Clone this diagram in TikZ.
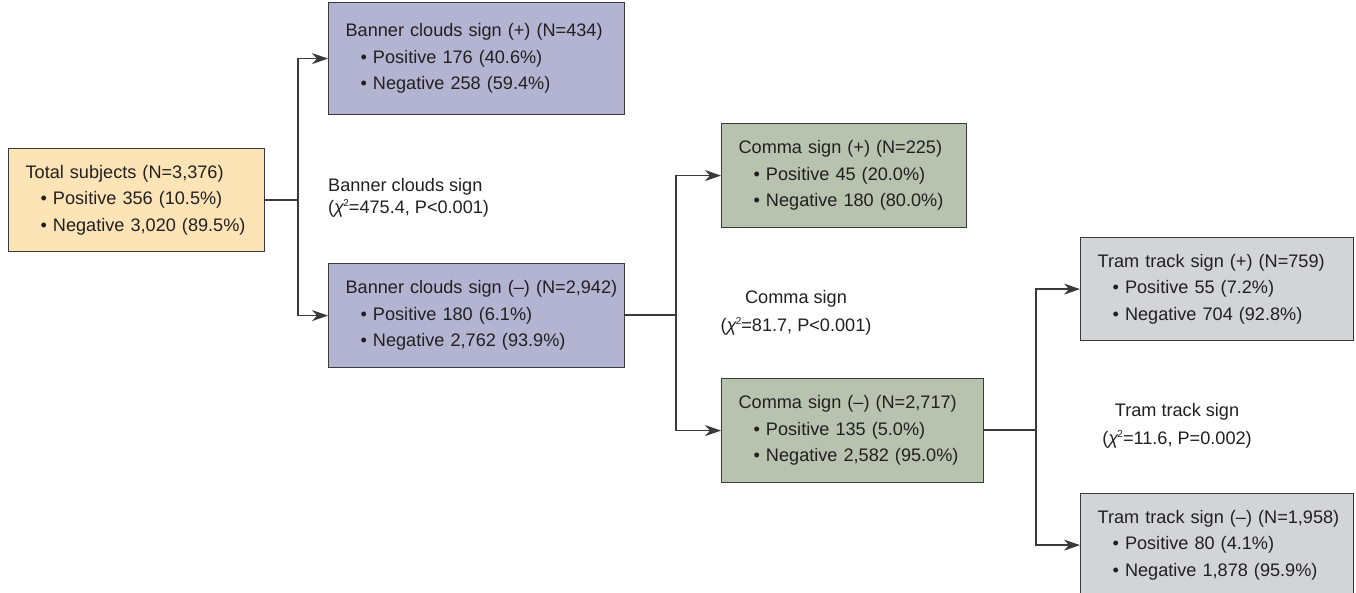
\documentclass[tikz,border=0pt]{standalone}
\usepackage{fontspec}
\setmainfont{Liberation Sans}
\usetikzlibrary{arrows.meta}
\definecolor{bordc}{HTML}{3A3A3A}
\definecolor{txtc}{HTML}{231F20}
\definecolor{totfill}{HTML}{FCE4B6}
\definecolor{banfill}{HTML}{B3B4D1}
\definecolor{comfill}{HTML}{B7C2AF}
\definecolor{tramfill}{HTML}{D3D4D6}
\newcommand\bl[1]{\mbox{\hspace*{15bp}\textbullet~#1}}
\newcommand\hd[1]{\mbox{#1}}
\newcommand\chisq{(\textit{χ}\kern-1bp\raisebox{0.75ex}{\fontsize{10}{10}\selectfont 2}}
\begin{document}
\begin{tikzpicture}[x=1bp,y=-1bp,
  box/.style={draw=bordc, line width=1.2bp, anchor=north west, inner xsep=17bp, inner ysep=0pt,
    align=left, text=txtc, font=\fontsize{18.2}{26.5}\selectfont},
  lbl/.style={text=txtc, font=\fontsize{18.2}{22}\selectfont, inner sep=0pt},
  conn/.style={draw=bordc, line width=1.3bp},
  arr/.style={conn, -{Stealth[length=16bp,width=11bp,inset=5bp]}}]
\useasboundingbox (0,0) rectangle (1356,593);
\fill[white] (0,0) rectangle (1356,593);

\node[box, fill=totfill, minimum width=256bp, minimum height=103bp, text width=222bp] (tot) at (8,148)
  {\hd{Total subjects (N=3,376)}\\\bl{Positive 356 (10.5\%)}\\\bl{Negative 3,020 (89.5\%)}};
\node[box, fill=banfill, minimum width=296bp, minimum height=112bp, text width=262bp] (b1) at (328,2)
  {\hd{Banner clouds sign (+) (N=434)}\\\bl{Positive 176 (40.6\%)}\\\bl{Negative 258 (59.4\%)}};
\node[box, fill=banfill, minimum width=296bp, minimum height=104bp, text width=262bp] (b2) at (328,263)
  {\hd{Banner clouds sign (–) (N=2,942)}\\\bl{Positive 180 (6.1\%)}\\\bl{Negative 2,762 (93.9\%)}};
\node[box, fill=comfill, minimum width=245bp, minimum height=104bp, text width=211bp] (c1) at (721,123)
  {\hd{Comma sign (+) (N=225)}\\\bl{Positive 45 (20.0\%)}\\\bl{Negative 180 (80.0\%)}};
\node[box, fill=comfill, minimum width=262bp, minimum height=104bp, text width=228bp] (c2) at (721,378)
  {\hd{Comma sign (–) (N=2,717)}\\\bl{Positive 135 (5.0\%)}\\\bl{Negative 2,582 (95.0\%)}};
\node[box, fill=tramfill, minimum width=273bp, minimum height=103bp, text width=239bp] (t1) at (1080,237)
  {\hd{Tram track sign (+) (N=759)}\\\bl{Positive 55 (7.2\%)}\\\bl{Negative 704 (92.8\%)}};
\node[box, fill=tramfill, minimum width=273bp, minimum height=103bp, text width=239bp] (t2) at (1080,493)
  {\hd{Tram track sign (–) (N=1,958)}\\\bl{Positive 80 (4.1\%)}\\\bl{Negative 1,878 (95.9\%)}};

\coordinate (j1) at (298,200);
\coordinate (j2) at (676,315);
\coordinate (j3) at (1036,430);

\draw[conn] (tot.east |- j1) -- (j1);
\draw[arr] (j1) |- (b1.west);
\draw[arr] (j1) |- (b2.west);
\draw[conn] (b2.east |- j2) -- (j2);
\draw[arr] (j2) |- (c1.west);
\draw[arr] (j2) |- (c2.west);
\draw[conn] (c2.east |- j3) -- (j3);
\draw[arr] (j3) |- (t1.west);
\draw[arr] (j3) |- (t2.west);

\node[lbl, anchor=west, align=left] (lb1) at (328,198)
  {Banner clouds sign\\\chisq=475.4, P<0.001)};
\node[lbl, align=center, font=\fontsize{18.2}{27.5}\selectfont] (lb2) at (796,313)
  {Comma sign\\\chisq=81.7, P<0.001)};
\node[lbl, align=center, font=\fontsize{18.2}{28}\selectfont] (lb3) at (1177,426)
  {Tram track sign\\\chisq=11.6, P=0.002)};
\end{tikzpicture}
\end{document}
